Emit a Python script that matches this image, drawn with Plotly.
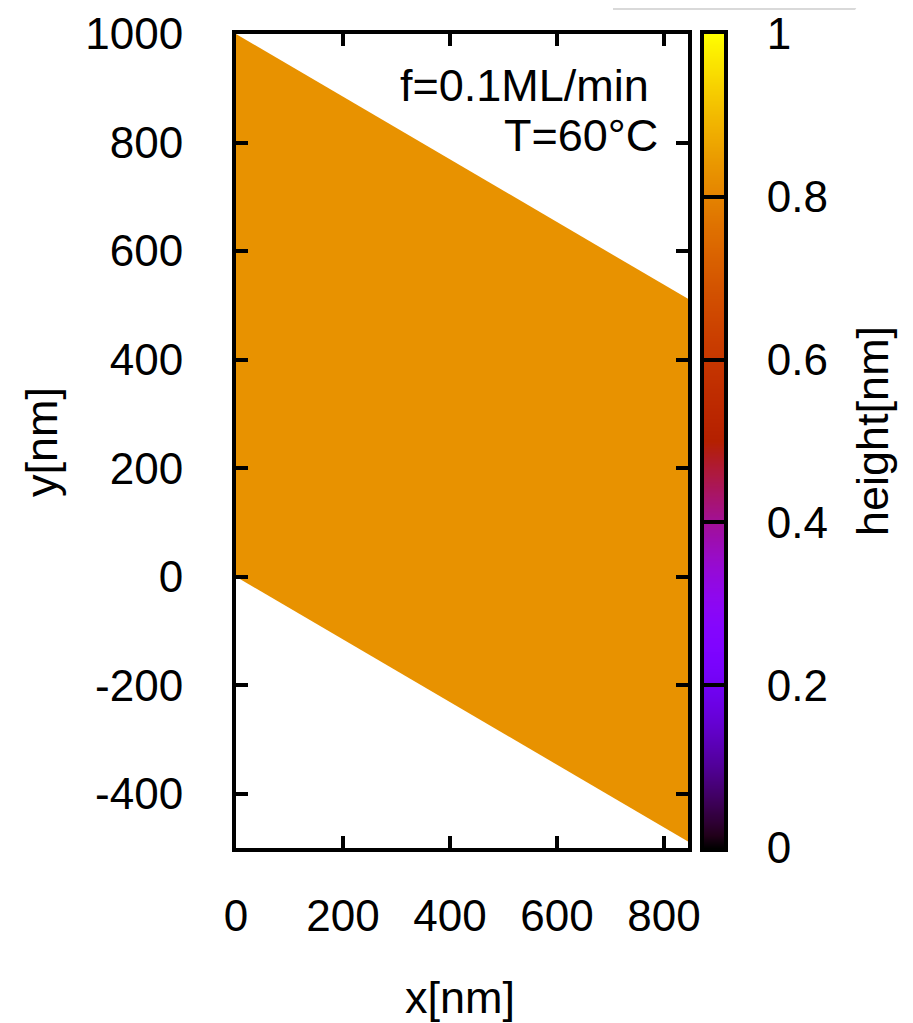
import numpy as np
import plotly.graph_objects as go

# ---------------- data ----------------
x_edges = [0, 845]            # left / right x of the simulated film [nm]
y_top = [1000, 512]           # upper edge y at x_edges [nm]
y_bottom = [0, -488]          # lower edge y at x_edges [nm]
film_height = 0.83            # height [nm] of the whole film

x_ticks = [0, 200, 400, 600, 800]
y_ticks = [-400, -200, 0, 200, 400, 600, 800, 1000]
y_tick_text = ["-400", "-200", "0", "200", "400", "600", "800", "1000"]
cb_ticks = [0, 0.2, 0.4, 0.6, 0.8, 1]
cb_tick_text = ["0", "0.2", "0.4", "0.6", "0.8", "1"]

label_f = "f=0.1ML/min"
label_T = "T=60°C"

# ---------------- palette (gnuplot rgbformulae 7,5,15) ----------------
def gnuplot_rgb(v):
    r = np.clip(np.sqrt(v), 0, 1)
    g = np.clip(v ** 3, 0, 1)
    b = np.clip(np.sin(2 * np.pi * v), 0, 1)
    return "rgb(%d,%d,%d)" % (round(r * 255), round(g * 255), round(b * 255))

cs_pos = np.linspace(0, 1, 65)
colorscale = [[float(p), gnuplot_rgb(p)] for p in cs_pos]

# ---------------- layout helpers ----------------
OFF = 8                      # page body margin of the html page
W, H = 913 - OFF, 1023 - OFF
L, T = 236 - OFF, 34 - OFF
PW = 492                     # screen 236..728
PH = 814                     # screen 34..848
R = W - L - PW
B = H - T - PH

def px(x):
    return (x - OFF - L) / PW

def py(y):
    return (T + PH - (y - OFF)) / PH

FONT = "Liberation Sans, Arial, sans-serif"
FS = 44
FS_TXT = 45

fig = go.Figure()

# film polygon
poly_x = [x_edges[0], x_edges[1], x_edges[1], x_edges[0], x_edges[0]]
poly_y = [y_bottom[0], y_bottom[1], y_top[1], y_top[0], y_bottom[0]]
fig.add_trace(go.Scatter(
    x=poly_x, y=poly_y, mode="lines", fill="toself",
    fillcolor=gnuplot_rgb(film_height), line=dict(width=0, color=gnuplot_rgb(film_height)),
    hoverinfo="skip", showlegend=False, xaxis="x", yaxis="y"))

# colour bar as a small heatmap
levels = np.linspace(0, 1, 201)
fig.add_trace(go.Heatmap(
    x=[0, 1], y=levels, z=[[v, v] for v in levels],
    colorscale=colorscale, zmin=0, zmax=1, zsmooth="best",
    showscale=False, hoverinfo="skip", xaxis="x2", yaxis="y2"))

axis_common = dict(showline=True, linewidth=4, linecolor="black",
                   showgrid=False, zeroline=False, automargin=False,
                   tickfont=dict(family=FONT, size=FS, color="black"))

fig.update_layout(
    width=W, height=H,
    margin=dict(l=L, r=R, t=T, b=B, autoexpand=False),
    paper_bgcolor="white", plot_bgcolor="white",
    font=dict(family=FONT, size=FS, color="black"),
    showlegend=False,
    xaxis=dict(domain=[0, px(688)], range=[0, x_edges[1]], anchor="y",
               tickvals=x_ticks, ticks="inside", ticklen=12, tickwidth=4,
               tickcolor="black", mirror="ticks", ticklabelstandoff=26,
               **axis_common),
    yaxis=dict(domain=[0, 1], range=[-500, 1000], anchor="x",
               tickvals=y_ticks, ticktext=y_tick_text, ticks="inside",
               ticklen=12, tickwidth=4, tickcolor="black", mirror="ticks",
               ticklabelstandoff=40, **axis_common),
    xaxis2=dict(domain=[px(704), px(724)], range=[0, 1], anchor="y2",
                showticklabels=False, ticks="", mirror=True, **axis_common),
    yaxis2=dict(domain=[0, 1], range=[0, 1], anchor="x2", side="right",
                tickvals=cb_ticks, ticktext=cb_tick_text, ticks="inside",
                ticklen=20, tickwidth=4, tickcolor="black", mirror=True,
                ticklabelstandoff=30, **axis_common),
    annotations=[
        dict(text=label_f, xref="paper", yref="paper", x=px(651), y=py(86),
             xanchor="right", yanchor="middle", showarrow=False,
             font=dict(family=FONT, size=FS_TXT)),
        dict(text=label_T, xref="paper", yref="paper", x=px(660), y=py(136),
             xanchor="right", yanchor="middle", showarrow=False,
             font=dict(family=FONT, size=FS_TXT)),
        dict(text="x[nm]", xref="paper", yref="paper", x=px(460), y=py(998),
             xanchor="center", yanchor="middle", showarrow=False,
             font=dict(family=FONT, size=FS_TXT)),
        dict(text="y[nm]", xref="paper", yref="paper", x=px(42), y=py(442),
             xanchor="center", yanchor="middle", showarrow=False, textangle=-90,
             font=dict(family=FONT, size=FS_TXT)),
        dict(text="height[nm]", xref="paper", yref="paper", x=px(873), y=py(431),
             xanchor="center", yanchor="middle", showarrow=False, textangle=-90,
             font=dict(family=FONT, size=FS_TXT)),
    ],
    shapes=[
        dict(type="path", xref="paper", yref="paper",
             path="M %f,%f L %f,%f L %f,%f L %f,%f Z" % (
                 px(613), py(0), px(862), py(0), px(855), py(10), px(613), py(10)),
             fillcolor="#d9d9d9", line=dict(width=0), layer="above"),
    ],
)

fig.write_html("out.html")
